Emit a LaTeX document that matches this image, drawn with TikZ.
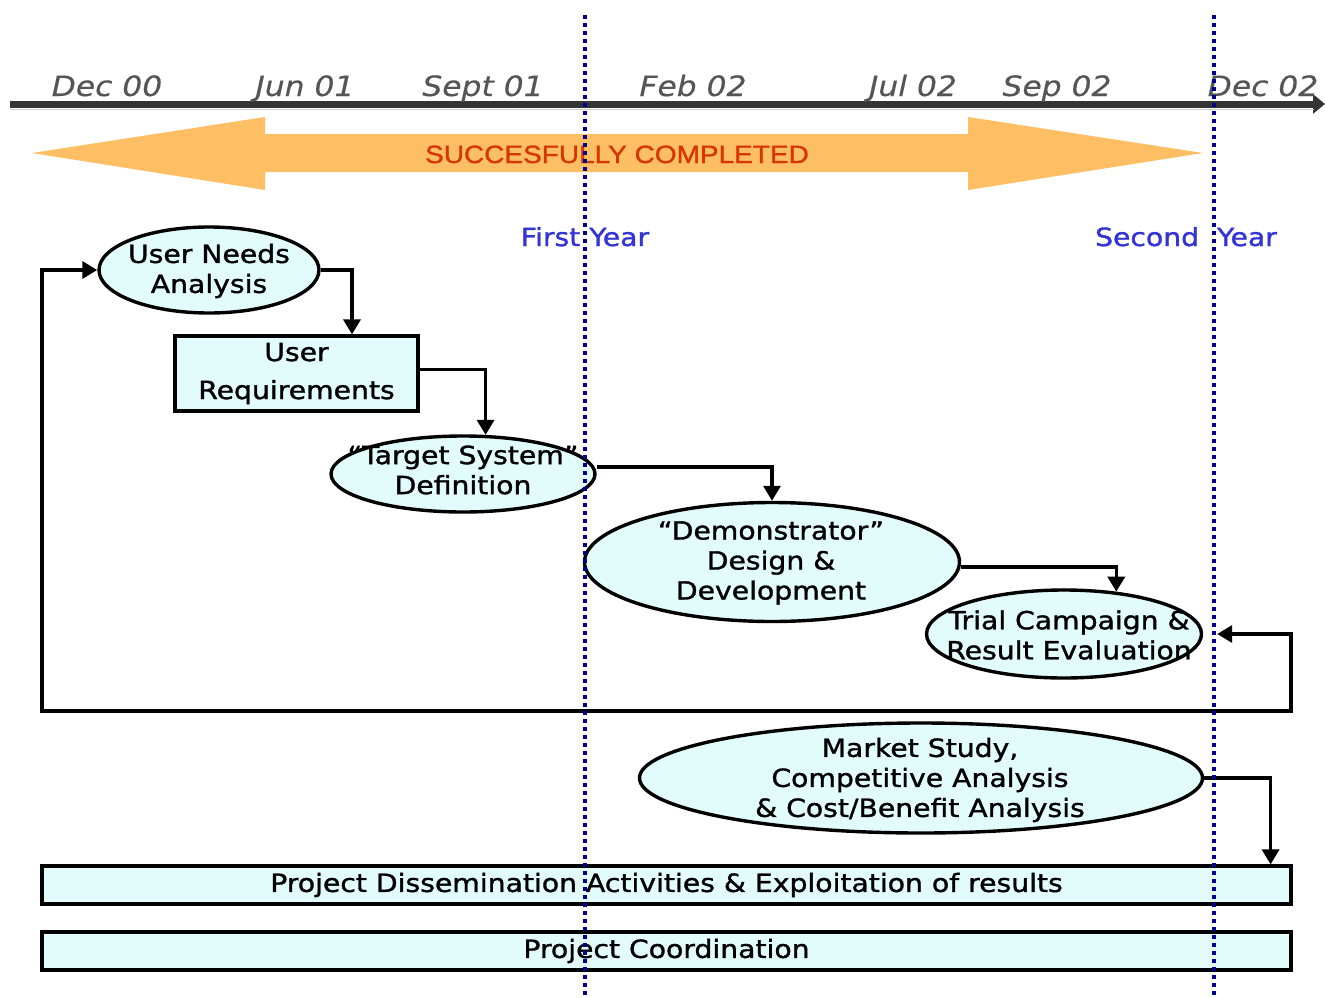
\documentclass[tikz,border=0pt]{standalone}
\usepackage{fontspec}
\setmainfont{DejaVu Sans}[FakeStretch=1.13, FakeBold=1.3]
\newfontfamily\datefont{DejaVu Sans}[FakeStretch=1.12, FakeBold=0.4]
\newfontfamily\bannerfont{Liberation Sans}[FakeStretch=1.12, FakeBold=1.2]
\usetikzlibrary{shapes.geometric, arrows.meta}

\definecolor{boxfill}{RGB}{226,251,251}
\definecolor{bannerorange}{RGB}{253,190,100}
\definecolor{bannertext}{RGB}{214,55,0}
\definecolor{yearblue}{RGB}{51,51,214}
\definecolor{divider}{RGB}{0,0,140}
\definecolor{axisgray}{RGB}{52,52,52}
\definecolor{dategray}{RGB}{85,85,85}

\tikzset{
  body/.style={font=\fontsize{25}{30}\selectfont},
  phase/.style={ellipse, draw, line width=3.4pt, fill=boxfill, inner sep=0pt},
  phasetext/.style={body, align=center, inner sep=0pt},
  bar/.style={rectangle, draw, line width=3.2pt, fill=boxfill, inner sep=0pt, body, align=center},
  conn/.style={line width=3.4pt, -{Triangle[width=17pt,length=15pt]}},
  loopconn/.style={line width=3.4pt, {Triangle[width=17pt,length=15pt]}-{Triangle[width=17pt,length=15pt]}},
  datelabel/.style={font=\datefont\itshape\fontsize{28}{30}\selectfont, text=dategray, inner sep=0pt, anchor=base},
  yearlabel/.style={body, text=yearblue, inner sep=0pt, anchor=base},
  yearline/.style={draw=divider, line width=3.8pt, dash pattern=on 3.8pt off 4.2pt}
}

\begin{document}
\begin{tikzpicture}[x=1pt, y=-1pt]
\useasboundingbox (0,0) rectangle (1325,998);

% time axis
\coordinate (axisL) at (10,104);
\coordinate (axisR) at (1325,104);
\draw[axisgray, line width=7pt, -{Triangle[width=19pt,length=12pt]}] (axisL) -- (axisR);
\draw[gray!40, line width=1pt] (10,109) -- (1314,109);
\node[datelabel] (d1) at (107,96) {Dec 00};
\node[datelabel] (d2) at (305,96) {Jun 01};
\node[datelabel] (d3) at (483,96) {Sept 01};
\node[datelabel] (d4) at (693,96) {Feb 02};
\node[datelabel] (d5) at (913,96) {Jul 02};
\node[datelabel] (d6) at (1057,96) {Sep 02};
\node[datelabel] (d7) at (1263,96) {Dec 02};

% completion banner
\fill[bannerorange] (32,153) -- (265,117) -- (265,134) -- (968,134) -- (968,117)
  -- (1203,153) -- (968,190) -- (968,172) -- (265,172) -- (265,190) -- cycle;
\node[font=\bannerfont\fontsize{25}{28}\selectfont, text=bannertext, inner sep=0pt, anchor=base] (banner) at (617,163) {SUCCESFULLY COMPLETED};

% year labels
\node[yearlabel] (y1) at (585,246) {First Year};
\node[yearlabel] (y2) at (1186,246) {Second\ \ Year};

% work packages
\node[phase, minimum width=220pt, minimum height=86pt] (una) at (209,270) {};
\node[phasetext] (unat) at (209,271) {User Needs\\Analysis};

\node[bar, minimum width=243pt, minimum height=75pt] (ur) at (296.5,373.5) {User\\[8pt]Requirements};

\node[phase, minimum width=264pt, minimum height=76pt] (tsd) at (463,474) {};
\node[phasetext] (tsdt) at (463,470) {\char"201C Target System\char"201D\\Definition};

\node[phase, minimum width=375pt, minimum height=119pt] (demo) at (772,562) {};
\node[phasetext] (demot) at (771,563) {\char"201C Demonstrator\char"201D\\Design \&\\Development};

\node[phase, minimum width=275pt, minimum height=88pt] (trial) at (1064,634) {};
\node[phasetext] (trialt) at (1069,635) {Trial Campaign \&\\Result Evaluation};

\node[phase, minimum width=563pt, minimum height=110pt] (mkt) at (921,778) {};
\node[phasetext] (mktt) at (920,780) {Market Study,\\Competitive Analysis\\\& Cost/Benefit Analysis};

\node[bar, minimum width=1249pt, minimum height=38pt] (dis) at (666.5,885) {Project Dissemination Activities \& Exploitation of results};
\node[bar, minimum width=1249pt, minimum height=38pt] (coord) at (666.5,951) {Project Coordination};

% flow between work packages
\draw[conn] (una.east) -| ([xshift=55.5pt]ur.north);
\draw[conn] ([yshift=4pt]ur.east) -| (tsd.60);
\draw[conn] ([yshift=7pt]tsd.east) -| (demo.north);
\draw[conn] ([yshift=-5pt]demo.east) -| (trial.39);
\draw[conn] (mkt.east) -| ([xshift=-22pt]dis.north east);

% feedback loop back to the start
\coordinate (loopR) at (1291,711);
\coordinate (loopL) at (42,270);
\draw[loopconn] ([xshift=14pt]trial.east) -| (loopR) -| (loopL) -- (una.west);

% year boundaries
\coordinate (v1t) at (585,15);
\coordinate (v1b) at (585,998);
\coordinate (v2t) at (1214,15);
\coordinate (v2b) at (1214,998);
\draw[yearline] (v1t) -- (v1b);
\draw[yearline] (v2t) -- (v2b);
\end{tikzpicture}
\end{document}
